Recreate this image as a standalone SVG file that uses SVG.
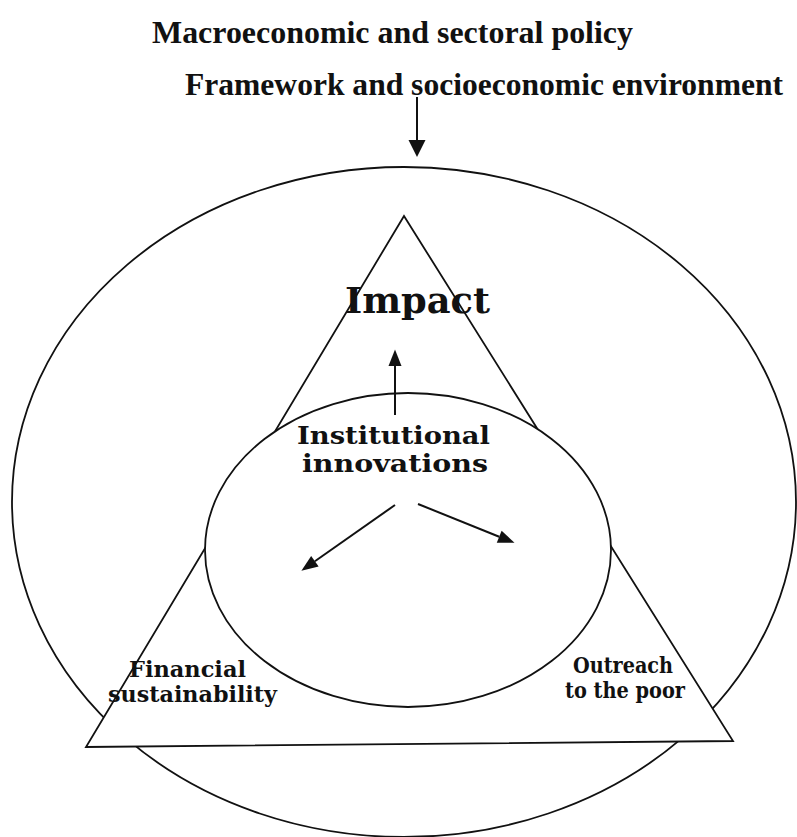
<svg xmlns="http://www.w3.org/2000/svg" width="797" height="837" viewBox="0 0 797 837">
  <style>
    .shape { stroke: #111; stroke-width: 1.8; fill: #fff; }
    .outer { fill: none; }
    .head { font-family: "Liberation Serif", "Times New Roman", serif; font-weight: bold; font-size: 32px; fill: #111; }
    .lbl { font-family: "DejaVu Serif", "Liberation Serif", serif; font-weight: bold; fill: #111; }
    .conn { stroke: #111; stroke-width: 2; fill: none; }
  </style>
  <defs>
    <marker id="arrow" markerUnits="userSpaceOnUse" viewBox="-1 -8 19 16" markerWidth="19" markerHeight="16" refX="0" refY="0" orient="auto" overflow="visible">
      <path d="M0,-6.5 L16.5,0 L0,6.5 Z" fill="#111"/>
    </marker>
    <marker id="arrowBold" markerUnits="userSpaceOnUse" viewBox="-1 -10 20 20" markerWidth="20" markerHeight="20" refX="0" refY="0" orient="auto" overflow="visible">
      <path d="M0,-8.5 L17,0 L0,8.5 Z" fill="#111"/>
    </marker>
  </defs>

  <rect width="797" height="837" fill="#fff"/>

  <!-- policy framework heading -->
  <g id="framework">
    <text class="head" x="152" y="43" textLength="481" lengthAdjust="spacingAndGlyphs">Macroeconomic and sectoral policy</text>
    <text class="head" x="185" y="95" textLength="598" lengthAdjust="spacingAndGlyphs">Framework and socioeconomic environment</text>
  </g>

  <!-- surrounding environment -->
  <g id="environment">
    <ellipse class="shape outer" cx="404" cy="502" rx="392" ry="335"/>
  </g>

  <!-- triangle of objectives -->
  <g id="objectives">
    <polygon class="shape" points="404,216 86,747 733,741"/>
    <text class="lbl" x="345" y="313" font-size="35" textLength="145" lengthAdjust="spacingAndGlyphs">Impact</text>
    <text class="lbl" x="129" y="677" font-size="22" textLength="117" lengthAdjust="spacingAndGlyphs">Financial</text>
    <text class="lbl" x="108" y="702" font-size="22" textLength="169" lengthAdjust="spacingAndGlyphs">sustainability</text>
    <text class="lbl" x="573" y="673" font-size="22" textLength="100" lengthAdjust="spacingAndGlyphs">Outreach</text>
    <text class="lbl" x="565" y="698" font-size="22" textLength="120" lengthAdjust="spacingAndGlyphs">to the poor</text>
  </g>

  <!-- institutional core -->
  <g id="institutions">
    <ellipse class="shape" cx="408" cy="550" rx="203" ry="157"/>
    <text class="lbl" x="297" y="444" font-size="24" textLength="193" lengthAdjust="spacingAndGlyphs">Institutional</text>
    <text class="lbl" x="302" y="472" font-size="24" textLength="186" lengthAdjust="spacingAndGlyphs">innovations</text>
  </g>

  <!-- connectors -->
  <g id="connectors">
    <line class="conn" x1="417" y1="97" x2="417" y2="140" stroke-width="5" marker-end="url(#arrowBold)"/>
    <line class="conn" x1="395" y1="415" x2="395" y2="366" marker-end="url(#arrow)"/>
    <line class="conn" x1="395" y1="505" x2="314.9" y2="561.2" marker-end="url(#arrow)"/>
    <line class="conn" x1="418" y1="504" x2="499.2" y2="536.7" marker-end="url(#arrow)"/>
  </g>
</svg>
